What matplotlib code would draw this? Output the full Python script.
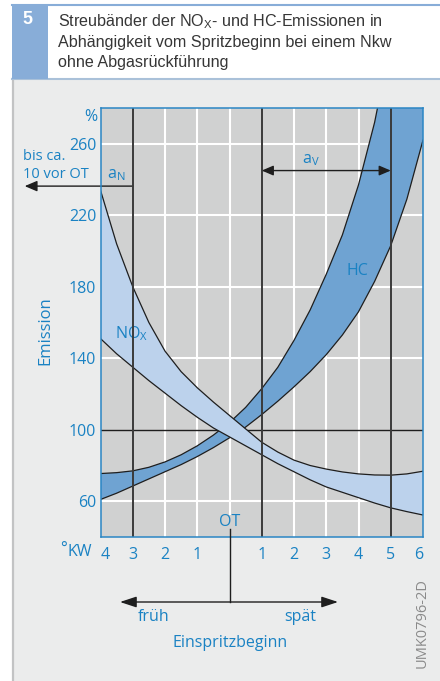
import matplotlib.pyplot as plt
import matplotlib.patches as patches
from matplotlib.lines import Line2D
from matplotlib.transforms import blended_transform_factory

# Streubaender NOx / HC ueber Spritzbeginn (Nkw ohne AGR)
kw = [-4, -3.5, -3, -2.5, -2, -1.5, -1, -0.5, 0, 0.5, 1, 1.5, 2, 2.5, 3,
      3.5, 4, 4.5, 5, 5.5, 6]
nox_hi = [234, 204, 180, 160, 144, 132.5, 123.5, 115.5, 108, 100.5, 93, 87.5,
          83, 80, 78, 76.4, 75.3, 74.7, 74.6, 75.3, 76.8]
nox_lo = [151, 142.5, 135, 127.5, 120.5, 113.5, 107, 101, 96, 91, 86, 81,
          76.5, 72, 68, 65, 62, 59, 56.3, 54.2, 52.3]

hc_hi_kw = [-4, -3.5, -3, -2.5, -2, -1.5, -1, -0.5, 0, 0.5, 1, 1.5, 2, 2.5, 3,
            3.5, 4, 4.5, 4.6]
hc_hi = [75.5, 76, 77, 79, 82, 86, 91, 97, 104, 112.5, 123, 135, 150, 167,
         187, 209, 237, 272, 281]
hc_lo = [61, 64.5, 68.5, 72.5, 76.5, 80.5, 85, 90, 95.5, 101.5, 108.5, 116,
         124, 132.5, 142, 153, 166, 183, 203, 229, 262]

xticks = [-4, -3, -2, -1, 1, 2, 3, 4, 5, 6]
xticklabels = ['4', '3', '2', '1', '1', '2', '3', '4', '5', '6']
yticks = [60, 100, 140, 180, 220, 260]

W, H = 440, 681
BLUE = '#1a82c3'
INK = '#1e1e1e'
PANEL = '#ebecec'

plt.rcParams['font.family'] = ['Open Sans', 'DejaVu Sans']


def fx(px):
    return px / W


def fy(py):
    return 1 - py / H


fig = plt.figure(figsize=(W / 100, H / 100), dpi=100)
fig.patch.set_facecolor('white')

# panel + header
fig.patches.append(patches.Rectangle((fx(12), 0), 1, fy(78), transform=fig.transFigure,
                                     facecolor=PANEL, edgecolor='none', zorder=-10))
fig.add_artist(Line2D([fx(13), fx(13)], [0, fy(78)], color='#c2c3c4', lw=1.6, zorder=-5))
fig.patches.append(patches.Rectangle((fx(12), fy(79)), fx(36), 75 / H, transform=fig.transFigure,
                                     facecolor='#88add8', edgecolor='none', zorder=-5))
fig.add_artist(Line2D([fx(12), 1], [fy(4.5), fy(4.5)], color='#88add8', lw=1.5, zorder=-5))
fig.add_artist(Line2D([fx(12), 1], [fy(78.5), fy(78.5)], color='#aac1d9', lw=1.5, zorder=-5))
fig.text(fx(27.5), fy(20), '5', color='white', fontsize=13, fontweight='bold',
         family='Liberation Sans', ha='center', va='center')
title = ['Streubänder der $\\mathregular{NO_X}$- und HC-Emissionen in',
         'Abhängigkeit vom Spritzbeginn bei einem Nkw',
         'ohne Abgasrückführung']
for i, line in enumerate(title):
    fig.text(fx(58), fy(22 + 20.5 * i), line, color='#363636', fontsize=11.6,
             family='Liberation Sans', ha='left', va='center')

ax = fig.add_axes([fx(100.5), fy(537), fx(423) - fx(100.5), (537 - 108) / H])
ax.set_facecolor('#d0d1d1')
ax.set_xlim(-4, 6)
ax.set_ylim(40, 280)

for v in [-2, -1, 2, 3, 4]:
    ax.axvline(v, color='white', lw=1.5, zorder=1)
ax.axvline(0, ymin=(53 - 40) / 240, color='white', lw=1.5, zorder=1)
for v in [60, 140, 180, 220, 260]:
    ax.axhline(v, color='white', lw=1.5, zorder=1)
ax.axhline(100, color=INK, lw=1.0, zorder=1.5)

# HC band (clipped at top of the axes)
top = ax.get_ylim()[1]
poly_x = hc_hi_kw + [kw[-1]] + kw[::-1]
poly_y = hc_hi + [top + 5] + hc_lo[::-1]
ax.fill(poly_x, poly_y, color='#6fa3d2', lw=0, zorder=2)
ax.plot(hc_hi_kw, hc_hi, color=INK, lw=0.9, zorder=2.5)
ax.plot(kw, hc_lo, color=INK, lw=0.9, zorder=2.5)

# NOx band on top
ax.fill_between(kw, nox_lo, nox_hi, color='#bcd2ec', lw=0, zorder=3)
ax.plot(kw, nox_hi, color=INK, lw=0.9, zorder=3.5)
ax.plot(kw, nox_lo, color=INK, lw=0.9, zorder=3.5)

for v in [-3, 1, 5]:
    ax.axvline(v, color='#3a3a3a', lw=1.4, zorder=4)

for s in ax.spines.values():
    s.set_color('#2a86c4')
    s.set_linewidth(1.1)
    s.set_zorder(5)

ax.set_yticks(yticks)
ax.set_yticklabels([str(v) for v in yticks])
ax.set_xticks(xticks)
ax.set_xticklabels(xticklabels)
ax.tick_params(length=0, labelsize=11.5, labelcolor=BLUE)
ax.tick_params(axis='y', pad=3)
ax.tick_params(axis='x', pad=7)
xl = ax.get_xticklabels()
xl[0].set_ha('left')
xl[-1].set_ha('right')

txt = dict(color=BLUE, fontsize=11.5)
ax.text(3.97, 189, 'HC', ha='center', va='center', **txt)
ax.text(-3.03, 154, '$\\mathregular{NO_X}$', ha='center', va='center', **txt)
ax.text(-3.5, 242.5, '$\\mathregular{a_N}$', ha='center', va='center', **txt)
ax.text(2.53, 251, '$\\mathregular{a_V}$', ha='center', va='center', **txt)
ax.text(0, 48.5, 'OT', ha='center', va='center', **txt)

head = dict(color=INK, lw=1.0, shrinkA=0, shrinkB=0, mutation_scale=10)
ax.annotate('', xy=(-6.35, 236.3), xytext=(-3, 236.3), annotation_clip=False,
            arrowprops=dict(arrowstyle='-|>,head_length=0.75,head_width=0.32', **head))
ax.annotate('', xy=(5, 245), xytext=(1, 245), zorder=6,
            arrowprops=dict(arrowstyle='<|-|>,head_length=0.7,head_width=0.3', **head))

fig.text(fx(97), fy(117), '%', ha='right', va='center', **txt)
fig.text(fx(45), fy(331), 'Emission', rotation=90, ha='center', va='center',
         color=BLUE, fontsize=12)
fig.text(fx(23), fy(157), 'bis ca.', ha='left', va='center', color=BLUE, fontsize=10.5)
fig.text(fx(23), fy(175), '10 vor OT', ha='left', va='center', color=BLUE, fontsize=10.5)
fig.text(fx(63), fy(550), '°', ha='center', va='center', **txt)
fig.text(fx(80), fy(552), 'KW', ha='center', va='center', **txt)

# Einspritzbeginn axis below the chart
tr = blended_transform_factory(ax.transData, fig.transFigure)
fig.add_artist(Line2D([0, 0], [fy(529), fy(602)], transform=tr, color=INK, lw=1.0))
fig.add_artist(patches.FancyArrowPatch(
    (fx(338), fy(602)), (fx(120), fy(602)), transform=fig.transFigure,
    arrowstyle='<|-|>,head_length=1.0,head_width=0.33', **head))
fig.text(fx(154), fy(617), 'früh', ha='center', va='center', **txt)
fig.text(fx(300), fy(617), 'spät', ha='center', va='center', **txt)
fig.text(fx(230), fy(643), 'Einspritzbeginn', ha='center', va='center', **txt)
fig.text(fx(422), fy(623), 'UMK0796-2D', rotation=90, ha='center', va='center',
         color='#8a8a8a', fontsize=10.5)

fig.savefig('out.png', dpi=100)
